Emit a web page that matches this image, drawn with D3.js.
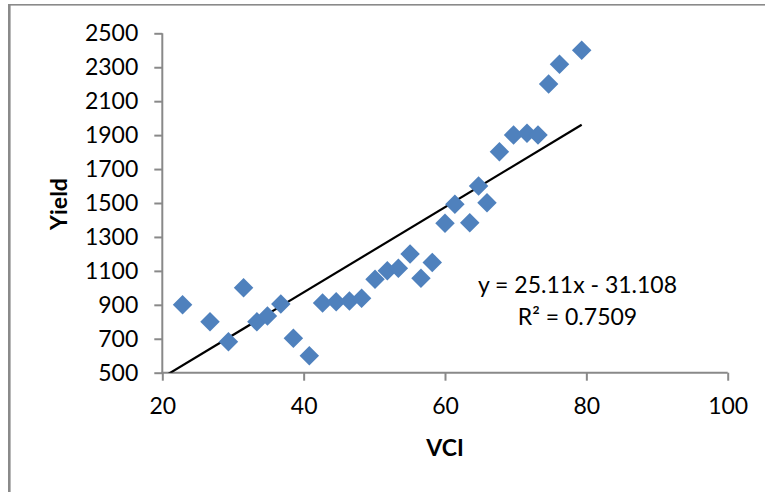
<!DOCTYPE html>
<html>
<head>
<meta charset="utf-8">
<script src="https://cdn.jsdelivr.net/npm/d3@7"></script>
<style>
  html, body { margin: 0; padding: 0; background: #fff; }
  svg { display: block; }
  text { font-family: Lato, "Open Sans", sans-serif; fill: #000; }
</style>
</head>
<body>
<svg id="chart" width="765" height="492"></svg>
<script>
// Data
const vci = [22.87, 26.75, 29.36, 31.5, 33.38, 34.88, 36.77, 38.55, 40.8, 42.68,
             44.6, 46.48, 48.2, 50.1, 51.84, 53.4, 55.06, 56.6, 58.2, 60.0,
             61.4, 63.5, 64.75, 65.94, 67.7, 69.7, 71.6, 73.16, 74.66, 76.2, 79.34];
const yieldVals = [900, 800, 683, 1000, 800, 834, 905, 703, 600, 911,
                   918, 922, 938, 1050, 1101, 1115, 1200, 1056, 1150, 1380,
                   1492, 1384, 1600, 1502, 1802, 1901, 1911, 1901, 2201, 2317, 2400];
const xTicks = [20, 40, 60, 80, 100];
const yTicks = [500, 700, 900, 1100, 1300, 1500, 1700, 1900, 2100, 2300, 2500];
const trendSlope = 25.11;
const trendIntercept = -31.108;
const equationLabel = "y = 25.11x - 31.108";
const r2Label = "R\u00B2 = 0.7509";
const xTitle = "VCI";
const yTitle = "Yield";

const svg = d3.select("#chart");
const axisColor = "#898989";

// outer chart border (only top and left visible in the crop)
svg.append("rect").attr("x", 8).attr("y", 4).attr("width", 757).attr("height", 1.6).attr("fill", "#8a8a8a");
svg.append("rect").attr("x", 8).attr("y", 4).attr("width", 2.6).attr("height", 488).attr("fill", "#8a8a8a");

const x = d3.scaleLinear().domain([20, 100]).range([162.3, 727.7]);
const y = d3.scaleLinear().domain([500, 2500]).range([372.7, 33.3]);

// clip for plot area
svg.append("defs").append("clipPath").attr("id", "plotclip")
  .append("rect").attr("x", x(20)).attr("y", y(2500)).attr("width", x(100) - x(20)).attr("height", y(500) - y(2500));

// axes
const yAxis = d3.axisLeft(y).tickValues(yTicks).tickSize(8).tickPadding(16).tickFormat(d3.format("d"));
const xAxis = d3.axisBottom(x).tickValues(xTicks).tickSize(8).tickPadding(17).tickFormat(d3.format("d"));

const gy = svg.append("g").attr("transform", `translate(${x(20)},0)`).call(yAxis);
const gx = svg.append("g").attr("transform", `translate(0,${y(500)})`).call(xAxis);
[gx, gy].forEach(g => {
  g.select(".domain").attr("stroke", axisColor).attr("stroke-width", 2).attr("d", null);
  g.selectAll(".tick line").attr("stroke", axisColor).attr("stroke-width", 2);
  g.selectAll(".tick text").style("font-size", "23px").style("font-family", "Lato, 'Open Sans', sans-serif").attr("fill", "#000");
});
// redraw domains as plain lines (no outer ticks)
gy.select(".domain").remove();
gx.select(".domain").remove();
svg.append("line").attr("x1", x(20)).attr("x2", x(20)).attr("y1", y(2500)).attr("y2", y(500) + 1)
  .attr("stroke", axisColor).attr("stroke-width", 2);
svg.append("line").attr("x1", x(20) - 1).attr("x2", x(100)).attr("y1", y(500)).attr("y2", y(500))
  .attr("stroke", axisColor).attr("stroke-width", 2);

// trendline
const xMax = d3.max(vci);
const trendPts = [[20, trendSlope * 20 + trendIntercept], [xMax, trendSlope * xMax + trendIntercept]];
svg.append("path")
  .attr("clip-path", "url(#plotclip)")
  .attr("d", d3.line().x(d => x(d[0])).y(d => y(d[1]))(trendPts))
  .attr("fill", "none").attr("stroke", "#000").attr("stroke-width", 2.2);

// points (diamonds)
const diamond = d3.symbol().type(d3.symbolSquare).size(190);
svg.append("g").selectAll("path").data(vci.map((v, i) => [v, yieldVals[i]]))
  .join("path")
  .attr("d", diamond)
  .attr("transform", d => `translate(${x(d[0])},${y(d[1])}) rotate(45)`)
  .attr("fill", "#4F81BD");

// equation labels
svg.append("text").attr("x", 577.5).attr("y", 293.3).attr("text-anchor", "middle")
  .style("font-size", "23px").text(equationLabel);
svg.append("text").attr("x", 577.5).attr("y", 325).attr("text-anchor", "middle")
  .style("font-size", "23px").text(r2Label);

// axis titles
svg.append("text").attr("x", x(60)).attr("y", 456).attr("text-anchor", "middle")
  .style("font-size", "23px").style("font-weight", "bold").text(xTitle);
svg.append("text").attr("transform", "translate(67,204) rotate(-90)").attr("text-anchor", "middle")
  .style("font-size", "23px").style("font-weight", "bold").text(yTitle);
</script>
</body>
</html>
